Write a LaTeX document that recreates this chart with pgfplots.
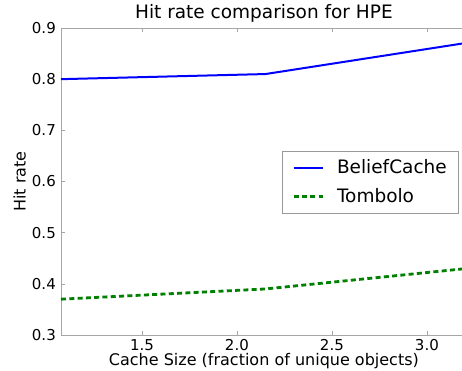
\documentclass[border=0pt]{standalone}
\usepackage{fontspec}
\setmainfont{DejaVu Sans}
\usepackage{pgfplots}
\pgfplotsset{compat=1.18}
\begin{document}
\fontsize{15}{18}\selectfont
\begin{tikzpicture}
\useasboundingbox (-61pt,-36pt) rectangle (401pt,335pt);
\begin{axis}[
  at={(0,0)}, anchor=south west,
  scale only axis, width=405.8pt, height=307pt,
  xmin=1.074, xmax=3.21, ymin=0.3, ymax=0.9,
  xtick={1.5,2.0,2.5,3.0}, ytick={0.3,0.4,0.5,0.6,0.7,0.8,0.9},
  xticklabels={1.5,2.0,2.5,3.0},
  yticklabels={0.3,0.4,0.5,0.6,0.7,0.8,0.9},
  tick align=inside, major tick length=4pt,
  tick style={gray!70, line width=0.6pt},
  axis line style={gray!70, line width=0.8pt},
  /pgf/number format/assume math mode=true,
  tick label style={font=\fontsize{15}{18}\selectfont},
  xticklabel style={yshift=1pt},
  title={Hit rate comparison for HPE},
  title style={font=\fontsize{18.5}{22}\selectfont, yshift=-6pt},
  xlabel={Cache Size (fraction of unique objects)},
  ylabel={Hit rate},
  label style={font=\fontsize{16}{19}\selectfont},
  xlabel style={yshift=7pt},
  ylabel style={yshift=-4pt},
  legend style={at={(0.981,0.599)}, anchor=north east, draw=gray!80, line width=0.6pt, font=\fontsize{18.5}{22}\selectfont, inner xsep=10pt, inner ysep=6pt, row sep=9pt, column sep=11pt},
  legend cell align=left,
  legend image code/.code={\draw[#1] (0pt,0pt) -- (29pt,0pt);},
]
\addplot[blue, line width=2pt] coordinates {(1.074,0.80) (2.15,0.81) (3.21,0.871)};
\addlegendentry{BeliefCache}
\addplot[color={rgb,255:red,0;green,128;blue,0}, line width=2.8pt, dash pattern=on 5pt off 3.3pt] coordinates {(1.074,0.37) (2.15,0.39) (3.21,0.43)};
\addlegendentry{Tombolo}
\end{axis}
\end{tikzpicture}
\end{document}
